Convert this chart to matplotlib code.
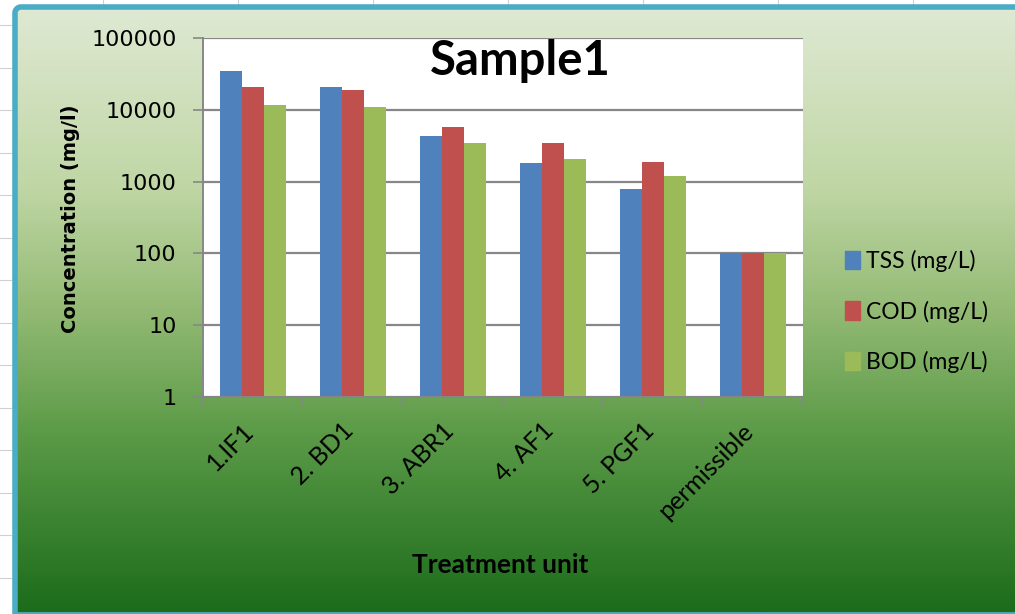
import numpy as np
import matplotlib.pyplot as plt
import matplotlib.transforms as mtransforms
from matplotlib.colors import LinearSegmentedColormap
from matplotlib.patches import Rectangle, Patch

# data (log scale)
units = ["1.IF1", "2. BD1", "3. ABR1", "4. AF1", "5. PGF1", "permissible"]
tss = [35000, 20500, 4300, 1800, 790, 100]
cod = [20500, 19000, 5700, 3500, 1900, 100]
bod = [11800, 11000, 3500, 2050, 1200, 100]
series_names = ["TSS (mg/L)", "COD (mg/L)", "BOD (mg/L)"]
series_colors = ["#4f81bd", "#c0504d", "#9bbb59"]
y_ticks = [1, 10, 100, 1000, 10000, 100000]

W, H = 1015, 614
fig = plt.figure(figsize=(W / 100, H / 100), dpi=100, facecolor="white")

# chart-area background: spreadsheet cells, blue frame, green gradient
bg = fig.add_axes([0, 0, 1, 1])
for x in [103, 238, 373, 508, 643, 778, 913]:
    bg.plot([x, x], [0, 6], color="#d0d0d0", lw=0.8)
for y in np.arange(25, H, 42.5):
    bg.plot([0, 11], [y, y], color="#d0d0d0", lw=0.8)

grad_cmap = LinearSegmentedColormap.from_list(
    "bg", [(0.0, "#dfe9d3"), (0.3, "#bfd6a4"), (0.5, "#93ba74"),
           (0.7, "#5c9b48"), (1.0, "#1b6c1b")])
grad = np.linspace(0, 1, 256).reshape(-1, 1)
bg.imshow(grad, cmap=grad_cmap, extent=(15, W, 613, 7), aspect="auto", zorder=1)
# frame: left, top and bottom edges only (right side runs off the screenshot)
t = np.linspace(np.pi, 1.5 * np.pi, 12)
r = 6
fx = np.r_[15, 15, 15 + r + r * np.cos(t), W + 5]
fy = np.r_[614, 7 + r, 7 + r + r * np.sin(t), 7]
bg.plot(fx, fy, color="#4bacc6", lw=4, zorder=3, solid_capstyle="butt")
bg.plot([15, W + 5], [613, 613], color="#4bacc6", lw=2, zorder=3)
bg.set_xlim(0, W)
bg.set_ylim(H, 0)
bg.axis("off")

# plot area
ax = fig.add_axes([203 / W, 1 - 397 / H, 600 / W, 359 / H])
ax.set_facecolor("white")
x = np.arange(len(units))
w = 0.222
for k, (vals, name, col) in enumerate(zip([tss, cod, bod], series_names, series_colors)):
    ax.bar(x + (k - 1) * w, vals, width=w, color=col, label=name, zorder=2)

ax.set_yscale("log")
ax.set_ylim(1, 100000)
ax.set_xlim(-0.5, len(units) - 0.5)
ax.set_yticks(y_ticks)
ax.set_yticklabels([str(v) for v in y_ticks], fontsize=16, family="DejaVu Sans")
ax.yaxis.set_minor_locator(plt.NullLocator())
ax.yaxis.grid(True, color="#878787", lw=1.6, zorder=1)
ax.tick_params(axis="y", length=7, width=1.2, color="#878787", pad=12)

# category labels, rotated like Excel's
ax.set_xticks(np.arange(len(units) + 1) - 0.5)
ax.set_xticklabels([])
ax.tick_params(axis="x", length=6, width=1.2, color="#878787")
lab_trans = ax.get_xaxis_transform() + mtransforms.ScaledTranslation(
    -0.03, -0.30, fig.dpi_scale_trans)
for i, name in enumerate(units):
    ax.text(i, 0, name, rotation=45, ha="right", va="center", rotation_mode="anchor",
            fontsize=18, family="Lato", transform=lab_trans)

for side in ["top", "right"]:
    ax.spines[side].set_visible(False)
for side in ["left", "bottom"]:
    ax.spines[side].set_color("#878787")
    ax.spines[side].set_linewidth(1.4)

fig.text(520 / W, 1 - 75 / H, "Sample1", ha="center", va="baseline",
         fontsize=34, fontweight="bold", family="Lato")
fig.text(70 / W, 1 - 219 / H, "Concentration (mg/l)", rotation=90, ha="center", va="center",
         fontsize=14, fontweight="bold", family="DejaVu Sans")
fig.text(500 / W, 1 - 565 / H, "Treatment unit", ha="center", va="center",
         fontsize=19, fontweight="bold", family="Lato")

handles = [Patch(color=c) for c in series_colors]
fig.legend(handles, series_names, loc="center left", bbox_to_anchor=(845 / W, 1 - 311.5 / H),
           frameon=False, prop={"family": "Lato", "size": 16.5}, handlelength=0.65,
           handleheight=0.85, handletextpad=0.25, labelspacing=1.25,
           borderpad=0, borderaxespad=0)

fig.savefig("out.png", dpi=100, facecolor="white")
